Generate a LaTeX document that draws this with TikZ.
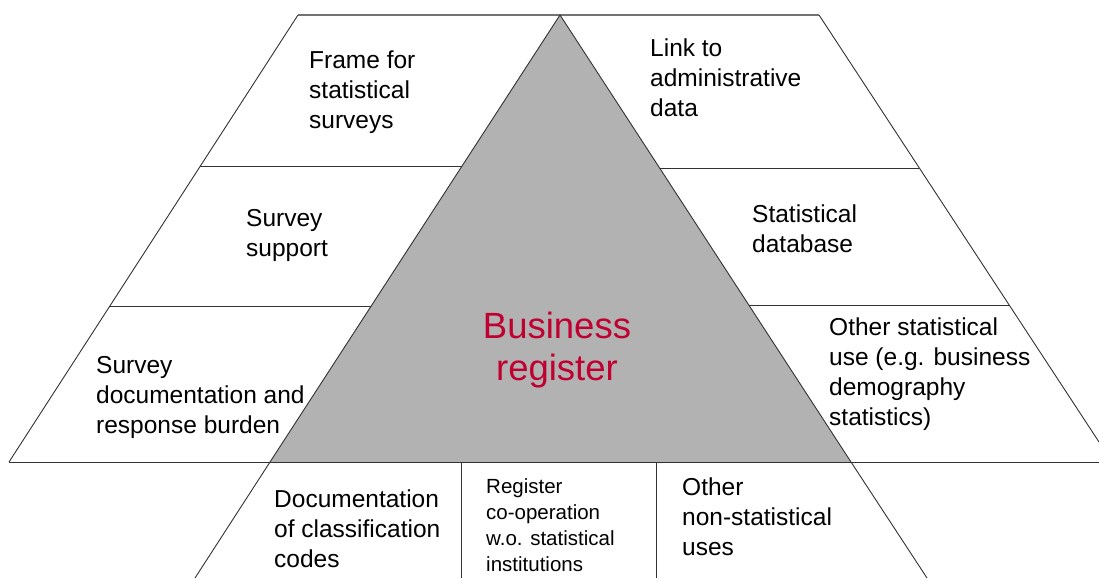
\documentclass[tikz,border=0pt]{standalone}
\usepackage{fontspec}
\setmainfont{Liberation Sans}
\definecolor{brred}{RGB}{192,0,48}
\definecolor{trigray}{RGB}{178,178,178}
\definecolor{lncol}{RGB}{50,50,50}
\begin{document}
\begin{tikzpicture}[x=1pt,y=-1pt,
  edge/.style={draw=lncol, line width=0.9pt},
  topedge/.style={draw=black!55, line width=1.2pt},
  lbl/.style={anchor=base west, inner sep=0pt, align=left, font=\fontsize{24.5}{30}\selectfont},
  smalllbl/.style={anchor=base west, inner sep=0pt, align=left, font=\fontsize{20.5}{26}\selectfont},
  bigred/.style={anchor=base, inner sep=0pt, align=center, text=brred, font=\fontsize{36.5}{42}\selectfont}]
\useasboundingbox (0,0) rectangle (1099,578);
\clip (0,0) rectangle (1099,578);
% key points
\coordinate (LT) at (298,15);
\coordinate (LB) at (9,462);
\coordinate (RT) at (819,15);
\coordinate (RB) at (1099,442);
\coordinate (RE) at (1099,462);
\coordinate (A)  at (560,15);
\coordinate (TL) at (270,462);
\coordinate (TR) at (851,462);
\coordinate (BL) at (195,578);
\coordinate (BR) at (927,578);
\coordinate (V1t) at (461,462);
\coordinate (V1b) at (461,578);
\coordinate (V2t) at (656,462);
\coordinate (V2b) at (656,578);
\coordinate (L1a) at (200,166);
\coordinate (L1b) at (462,166);
\coordinate (L2a) at (110,306);
\coordinate (L2b) at (371,306);
\coordinate (R1a) at (660,168);
\coordinate (R1b) at (919,168);
\coordinate (R2a) at (749,305);
\coordinate (R2b) at (1009,305);
% triangle
\fill[trigray] (A) -- (TL) -- (TR) -- cycle;
% outline lines
\draw[topedge] (LT) -- (RT);
\draw[edge] (LT) -- (LB);
\draw[edge] (RT) -- (RB);
\draw[edge] (LB) -- (RE);
\draw[edge] (A) -- (TL) -- (BL);
\draw[edge] (A) -- (TR) -- (BR);
\draw[edge] (L1a) -- (L1b);
\draw[edge] (L2a) -- (L2b);
\draw[edge] (R1a) -- (R1b);
\draw[edge] (R2a) -- (R2b);
\draw[edge] (V1t) -- (V1b);
\draw[edge] (V2t) -- (V2b);
% texts (anchor = baseline of last line)
\node[lbl] (frame) at (309,128) {Frame for\\statistical\\surveys};
\node[lbl] (link) at (650,116) {Link to\\administrative\\data};
\node[lbl] (support) at (246,256) {Survey\\support};
\node[lbl] (stdb) at (752,252) {Statistical\\database};
\node[lbl] (doc) at (96,433) {Survey\\documentation and\\response burden};
\node[lbl] (other) at (829,425) {Other statistical\\use (e.g. business\\demography\\statistics)};
\node[bigred] (br) at (557,380) {Business\\register};
\node[lbl] (class) at (274,567) {Documentation\\of classification\\codes};
\node[smalllbl] (coop) at (486,571) {Register\\co-operation\\w.o. statistical\\institutions};
\node[lbl] (nonstat) at (682,555) {Other\\non-statistical\\uses};
\end{tikzpicture}
\end{document}
